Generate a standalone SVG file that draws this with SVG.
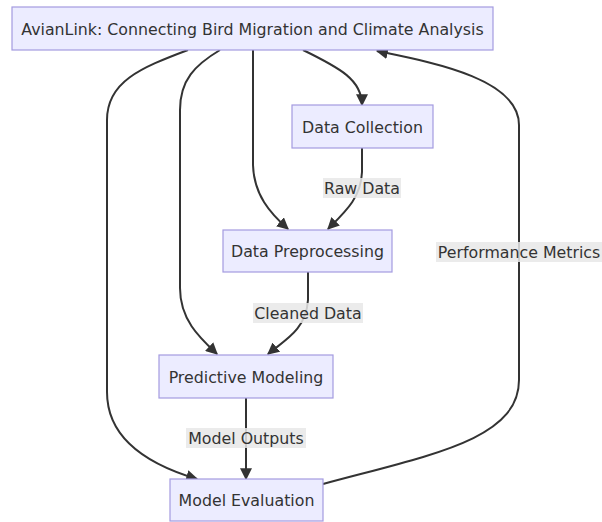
<svg xmlns="http://www.w3.org/2000/svg" width="602" height="522" viewBox="0 0 602 522">
<style>
.node rect{fill:#ECECFF;stroke:#A49BE0;stroke-width:1.2}
.node text,.lbl text{font-family:"DejaVu Sans","Liberation Sans",sans-serif;font-size:15.8px;fill:#333;text-anchor:middle;dominant-baseline:central}
.edge{fill:none;stroke:#333;stroke-width:2}
.lbl rect{fill:#E8E8E8;opacity:0.85}
</style>
<defs>
<marker id="arr" viewBox="0 0 10 10" refX="9" refY="5" markerUnits="userSpaceOnUse" markerWidth="12" markerHeight="12" orient="auto">
<path d="M0,0 L10,5 L0,10 z" fill="#333"/>
</marker>
</defs>
<rect width="602" height="522" fill="#fff"/>
<g id="edges">
<path class="edge" marker-end="url(#arr)" d="M303,50 C340,68 362,80 362,105"/>
<path class="edge" marker-end="url(#arr)" d="M253,50 L253,165 C254,195 270,213 288,229"/>
<path class="edge" marker-end="url(#arr)" d="M362,148 L362,172 C361,198 345,212 328,229"/>
<path class="edge" marker-end="url(#arr)" d="M220,50 C195,65 180,80 180,110 L180,288 C180,320 200,338 217,354"/>
<path class="edge" marker-end="url(#arr)" d="M188,50 C140,68 107,82 107,120 L107,392 C107,440 150,465 197,479"/>
<path class="edge" marker-end="url(#arr)" d="M308,272 L308,300 C306,330 285,340 268,354"/>
<path class="edge" marker-end="url(#arr)" d="M246,398 L246,479"/>
<path class="edge" marker-end="url(#arr)" d="M323,484 C430,455 519,440 519,380 L519,125 C519,78 430,62 377,51"/>
<g class="lbl"><rect x="323" y="178" width="78" height="20"/><text x="362" y="188">Raw Data</text></g>
<g class="lbl"><rect x="253" y="303" width="110" height="20"/><text x="308" y="313">Cleaned Data</text></g>
<g class="lbl"><rect x="186" y="428" width="120" height="20"/><text x="246" y="438">Model Outputs</text></g>
<g class="lbl"><rect x="436" y="242" width="166" height="20"/><text x="519" y="252">Performance Metrics</text></g>
</g>
<g id="top" class="node"><rect x="12" y="7" width="481" height="43"/><text x="252.5" y="29">AvianLink: Connecting Bird Migration and Climate Analysis</text></g>
<g id="collect" class="node"><rect x="292" y="105" width="141" height="43"/><text x="362.5" y="127">Data Collection</text></g>
<g id="preproc" class="node"><rect x="223" y="230" width="169" height="42"/><text x="307.5" y="251">Data Preprocessing</text></g>
<g id="predict" class="node"><rect x="159" y="355" width="174" height="43"/><text x="246" y="377">Predictive Modeling</text></g>
<g id="eval" class="node"><rect x="170" y="479" width="153" height="42"/><text x="246.5" y="500">Model Evaluation</text></g>
</svg>
